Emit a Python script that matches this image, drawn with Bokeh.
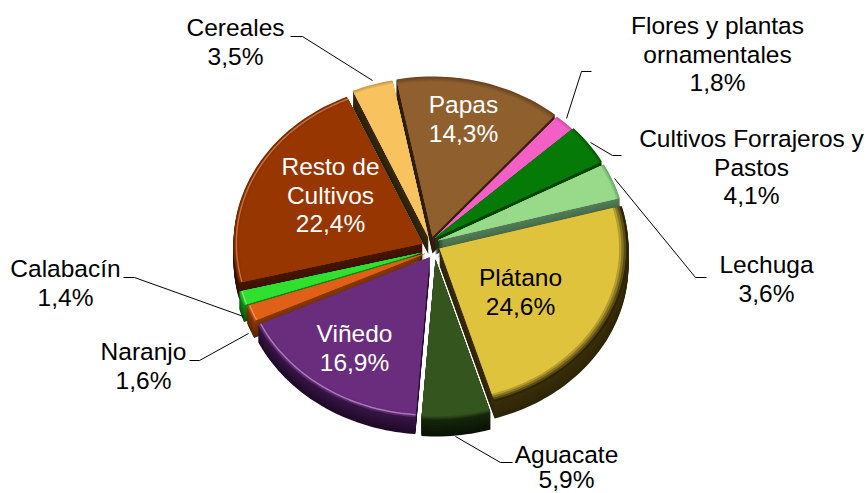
import math
from bokeh.plotting import figure
from bokeh.models import Range1d
from bokeh.core.properties import value
from bokeh.embed import file_html
from bokeh.resources import INLINE

# ---- data (clockwise from the Papas slice) ----
categories = ["Papas", "Flores y plantas ornamentales", "Cultivos Forrajeros y Pastos", "Lechuga",
              "Plátano", "Aguacate", "Viñedo", "Naranjo", "Calabacín", "Resto de Cultivos", "Cereales"]
shares = [14.3, 1.8, 4.1, 3.6, 24.6, 5.9, 16.9, 1.6, 1.4, 22.4, 3.5]

# ---- style ----
face_colors = ["#8f5f2e", "#f45fc6", "#067a06", "#98d98a", "#e0c33c", "#35551f", "#6a2d7d", "#e06018", "#2fe02f", "#973600", "#f8c35f"]
wall_top = ["#3a2510", "#8a3070", "#044a04", "#55805a", "#3a2f0a", "#16280c", "#3a1748", "#8a3a08", "#188a18", "#4a1800", "#3a2c10"]
wall_bot = ["#2a1a08", "#50183f", "#022802", "#355838", "#2e2508", "#0a1205", "#1e0a28", "#5a2504", "#0c500c", "#2a0e00", "#2a2008"]
rim_colors = ["#6a4420", "#d04aa8", "#045a04", "#6aa868", "#2e2508", "#1e3410", "#5a2a6c", "#b04a10", "#22b022", "#7a2c00", "#c89848"]
rim_width = [0.03, 0.02, 0.02, 0.02, 0.05, 0.02, 0.03, 0.02, 0.02, 0.03, 0.02]
hilite = [None, None, None, None, None, None, "#c08ad0", "#f4a060", "#90f090", "#d8804a", None]
shift_x = [0, 2, 3, 5, 7, 3, -3, -7, -10, -10, -4]
shift_y = [-7, -5, -6, -3, 5, 16, 14, 10, 9, 0, -6]
START_DEG = -11.0
CX, CY, RX, RY = 432, 243, 189, 160
DEPTH = 17
FONT = "Liberation Sans"
FS = "24.5px"

labels = [
    (["Cereales", "3,5%"], 235, 27, "black", 28.5),
    (["Flores y plantas", "ornamentales", "1,8%"], 717, 25, "black", 28.5),
    (["Cultivos Forrajeros y", "Pastos", "4,1%"], 751, 138, "black", 28.5),
    (["Lechuga", "3,6%"], 766, 264, "black", 28.5),
    (["Plátano", "24,6%"], 520, 277, "black", 28.5),
    (["Aguacate", "5,9%"], 566, 454, "black", 24.5),
    (["Viñedo", "16,9%"], 354, 333, "white", 28.5),
    (["Naranjo", "1,6%"], 143, 351, "black", 28.5),
    (["Calabacín", "1,4%"], 65, 268, "black", 28.5),
    (["Resto de", "Cultivos", "22,4%"], 330, 166, "white", 28.5),
    (["Papas", "14,3%"], 463, 104, "white", 28.5),
]
leaders = [
    ([290, 302, 372], [36, 36, 80]),
    ([591, 581, 566], [71, 71, 118]),
    ([621, 612, 590], [155, 155, 142]),
    ([706, 695, 614], [277, 277, 178]),
    ([512, 500, 455], [462, 462, 436]),
    ([189, 199, 248], [360, 360, 333]),
    ([123, 134, 243], [277, 277, 316]),
]

p = figure(width=866, height=493, x_range=Range1d(0, 866), y_range=Range1d(493, 0),
           output_backend="svg", toolbar_location=None, min_border=0,
           outline_line_color=None, background_fill_color="white", x_axis_type=None, y_axis_type=None)
p.grid.visible = False


def mix(a, b, f):
    ca = [int(a[i:i + 2], 16) for i in (1, 3, 5)]
    cb = [int(b[i:i + 2], 16) for i in (1, 3, 5)]
    return "#%02x%02x%02x" % tuple(round(x + (y - x) * f) for x, y in zip(ca, cb))


total = sum(shares)
spans = []
t = START_DEG
for s in shares:
    spans.append((t, t + s / total * 360.0))
    t += s / total * 360.0


def arc(i, scale=1.0):
    t0, t1 = spans[i]
    n = max(4, int((t1 - t0) / 1.5))
    xs, ys = [], []
    for k in range(n + 1):
        a = math.radians(t0 + (t1 - t0) * k / n)
        xs.append(CX + shift_x[i] + RX * scale * math.sin(a))
        ys.append(CY + shift_y[i] - RY * scale * math.cos(a))
    return xs, ys


def wedge(i, scale=1.0):
    xs, ys = arc(i, scale)
    return [CX + shift_x[i]] + xs, [CY + shift_y[i]] + ys


# walls: stacked copies, darkest at the bottom
order = range(len(shares))
for d in range(DEPTH, 0, -1):
    f = d / DEPTH
    for i in order:
        xs, ys = wedge(i)
        p.patch(xs, [y + d for y in ys], fill_color=mix(wall_top[i], wall_bot[i], f), line_color=None)

# faces with soft darker rim
for i in order:
    for f in (0.0, 0.25, 0.5, 0.75, 1.0):
        xs, ys = wedge(i, 1.0 - rim_width[i] * f)
        p.patch(xs, ys, fill_color=mix(rim_colors[i], face_colors[i], f), line_color=None)
    if hilite[i]:
        xs, ys = arc(i, 0.985)
        p.line(xs, ys, line_color=hilite[i], line_width=1.5, line_alpha=0.8)

# leader lines
for lx, ly in leaders:
    p.line(lx, ly, line_color="black", line_width=1)

# labels
for lines, x, y, col, pitch in labels:
    for k, s in enumerate(lines):
        p.text([x], [y + k * pitch], text=[s], text_font=value(FONT), text_font_size=FS, text_color=col,
               text_align="center", text_baseline="middle")

open("out.html", "w").write(file_html(p, INLINE))
